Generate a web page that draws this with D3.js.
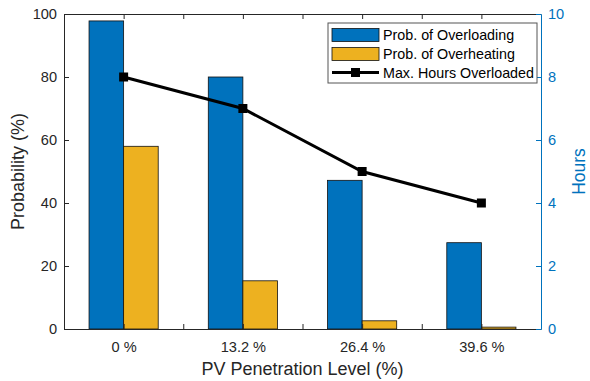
<!DOCTYPE html>
<html><head><meta charset="utf-8">
<script src="https://cdn.jsdelivr.net/npm/d3@7"></script>
<style>body{margin:0;background:#fff}svg{display:block}text{font-family:"Liberation Sans",Arial,sans-serif}</style>
</head><body>
<svg id="c" width="590" height="381"></svg>
<script>
const categories = ["0 %", "13.2 %", "26.4 %", "39.6 %"];
const probOverloading = [97.8, 80, 47.2, 27.4];
const probOverheating = [58, 15.3, 2.6, 0.6];
const maxHours = [8, 7, 5, 4];
const leftTicks = [0, 20, 40, 60, 80, 100];
const rightTicks = [0, 2, 4, 6, 8, 10];
const seriesNames = ["Prob. of Overloading", "Prob. of Overheating", "Max. Hours Overloaded"];

const W = 590, H = 381;
const m = {l: 64, r: 541, t: 14, b: 329};
const blue = "#0072BD", yellow = "#EDB120", axisBlue = "#0072BD", ink = "#262626";
const tickFont = "14.6px";
const svg = d3.select("#c");

const x = d3.scaleLinear().domain([0.5, 4.5]).range([m.l, m.r]);
const yL = d3.scaleLinear().domain([0, 100]).range([m.b, m.t]);
const yR = d3.scaleLinear().domain([0, 10]).range([m.b, m.t]);
const bw = x(0.79) - x(0.5);

// bars
const g = svg.append("g");
g.selectAll(".b1").data(probOverloading).join("rect")
  .attr("x", (d, i) => x(i + 1) - bw).attr("width", bw)
  .attr("y", d => yL(d)).attr("height", d => yL(0) - yL(d))
  .attr("fill", blue).attr("stroke", "#111").attr("stroke-width", 0.8);
g.selectAll(".b2").data(probOverheating).join("rect")
  .attr("x", (d, i) => x(i + 1)).attr("width", bw)
  .attr("y", d => yL(d)).attr("height", d => yL(0) - yL(d))
  .attr("fill", yellow).attr("stroke", "#111").attr("stroke-width", 0.8);

// line
const line = d3.line().x((d, i) => x(i + 1)).y(d => yR(d));
svg.append("path").datum(maxHours).attr("d", line)
  .attr("fill", "none").attr("stroke", "#000").attr("stroke-width", 3);
svg.selectAll(".mk").data(maxHours).join("rect")
  .attr("x", (d, i) => x(i + 1) - 4.5).attr("y", d => yR(d) - 4.5)
  .attr("width", 9).attr("height", 9).attr("fill", "#000");

// axes
const xt = [1, 1.5, 2, 2.5, 3, 3.5, 4];
const axB = svg.append("g").attr("transform", `translate(0,${m.b})`)
  .call(d3.axisBottom(x).tickValues(xt).tickSizeInner(-5).tickSizeOuter(0)
    .tickFormat(d => Number.isInteger(d) ? categories[d - 1] : ""));
axB.select(".domain").attr("stroke", ink);
axB.selectAll(".tick line").attr("stroke", ink);
axB.selectAll(".tick text").attr("dy", null).attr("y", 22.5).attr("fill", ink).style("font-size", tickFont).style("font-family", "Liberation Sans, Arial, sans-serif");

const axT = svg.append("g").attr("transform", `translate(0,${m.t})`)
  .call(d3.axisTop(x).tickValues(xt).tickSizeInner(-5).tickSizeOuter(0).tickFormat(""));
axT.select(".domain").attr("stroke", ink);
axT.selectAll(".tick line").attr("stroke", ink);

const axL = svg.append("g").attr("transform", `translate(${m.l},0)`)
  .call(d3.axisLeft(yL).tickValues(leftTicks).tickSizeInner(-5).tickSizeOuter(0).tickPadding(7));
axL.select(".domain").attr("stroke", ink);
axL.selectAll(".tick line").attr("stroke", ink);
axL.selectAll(".tick text").attr("fill", ink).style("font-size", tickFont).style("font-family", "Liberation Sans, Arial, sans-serif");

const axR = svg.append("g").attr("transform", `translate(${m.r},0)`)
  .call(d3.axisRight(yR).tickValues(rightTicks).tickSizeInner(-5).tickSizeOuter(0).tickPadding(7));
axR.select(".domain").attr("stroke", axisBlue);
axR.selectAll(".tick line").attr("stroke", axisBlue);
axR.selectAll(".tick text").attr("fill", axisBlue).style("font-size", tickFont).style("font-family", "Liberation Sans, Arial, sans-serif");

// axis labels
svg.append("text").attr("x", (m.l + m.r) / 2).attr("y", 375).attr("text-anchor", "middle")
  .attr("fill", ink).style("font-size", "18px").text("PV Penetration Level (%)");
svg.append("text").attr("transform", `translate(24,${(m.t + m.b) / 2}) rotate(-90)`).attr("text-anchor", "middle")
  .attr("fill", ink).style("font-size", "18px").text("Probability (%)");
svg.append("text").attr("transform", `translate(585,${(m.t + m.b) / 2}) rotate(-90)`).attr("text-anchor", "middle")
  .attr("fill", axisBlue).style("font-size", "17.5px").text("Hours");

// legend
const lg = svg.append("g");
lg.append("rect").attr("x", 328).attr("y", 23).attr("width", 209).attr("height", 60)
  .attr("fill", "#fff").attr("stroke", "#555").attr("stroke-width", 1);
const rows = [35, 54, 72.5];
lg.append("rect").attr("x", 332).attr("y", rows[0] - 6.5).attr("width", 47).attr("height", 13)
  .attr("fill", blue).attr("stroke", "#111").attr("stroke-width", 0.8);
lg.append("rect").attr("x", 332).attr("y", rows[1] - 6.5).attr("width", 47).attr("height", 13)
  .attr("fill", yellow).attr("stroke", "#111").attr("stroke-width", 0.8);
lg.append("line").attr("x1", 332).attr("x2", 379).attr("y1", rows[2]).attr("y2", rows[2])
  .attr("stroke", "#000").attr("stroke-width", 3);
lg.append("rect").attr("x", 355.5 - 4.5).attr("y", rows[2] - 4.5).attr("width", 9).attr("height", 9).attr("fill", "#000");
lg.selectAll(".lt").data(seriesNames).join("text")
  .attr("x", 383).attr("y", (d, i) => rows[i] + 5).attr("fill", "#000")
  .style("font-size", "14.3px").text(d => d);
</script>
</body></html>
